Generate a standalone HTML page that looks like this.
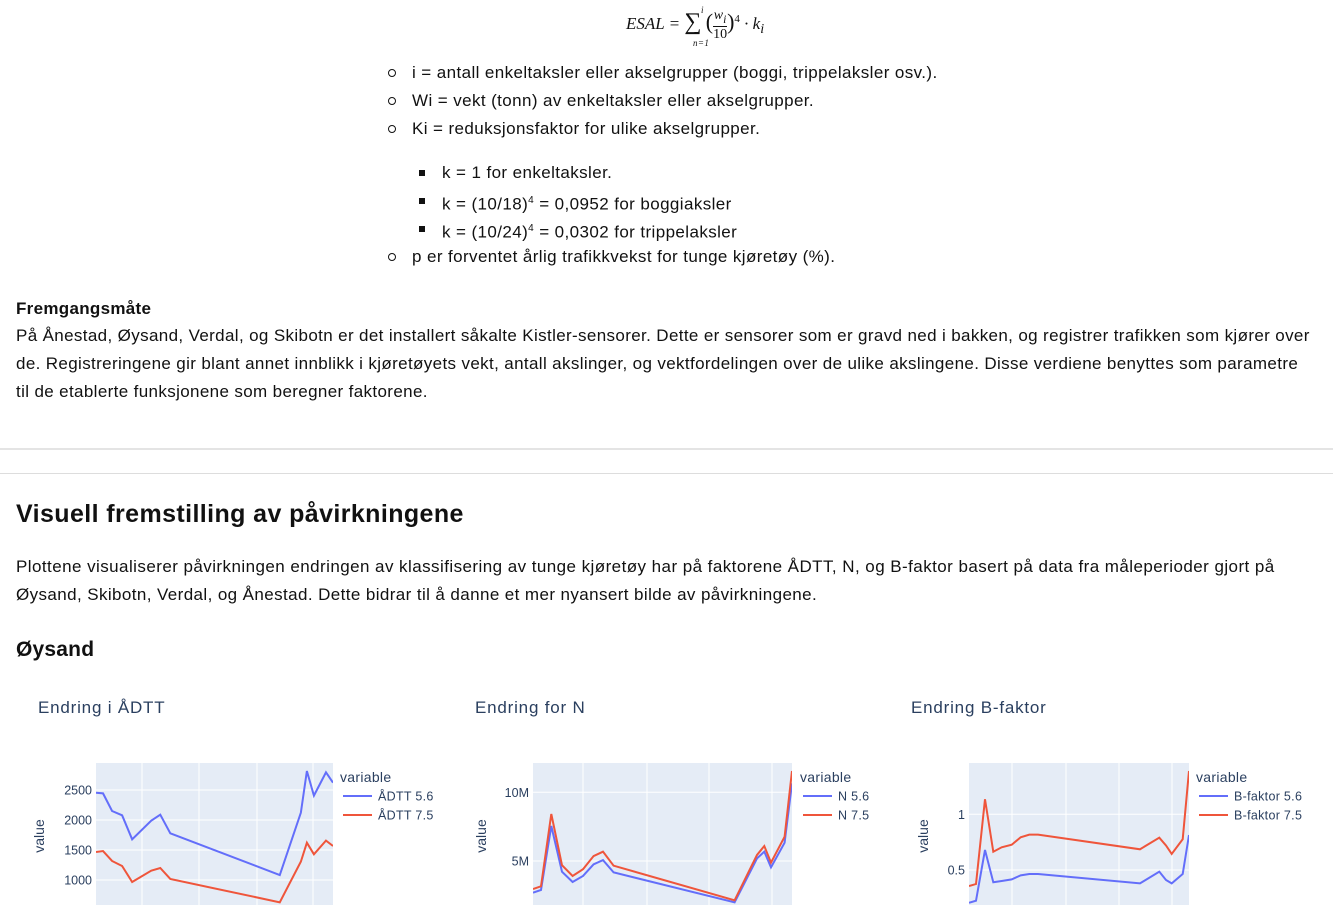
<!DOCTYPE html>
<html><head><meta charset="utf-8">
<style>
body{margin:0;width:1333px;height:905px;overflow:hidden;background:#fff;font-family:"Liberation Sans",sans-serif;color:#111;position:relative}
.t{position:absolute;white-space:nowrap;font-size:17px;line-height:20px;letter-spacing:0.4px}
.p{letter-spacing:0.4px}
.b{font-weight:bold}
.bul{position:absolute;width:6px;height:6px;border:1.5px solid #111;border-radius:50%}
.sq{position:absolute;width:6px;height:6px;background:#111}
svg text{font-family:"Liberation Sans",sans-serif}
</style></head><body>
<div class="t" style="left:626px;top:8px;font-family:'Liberation Serif',serif;font-style:italic;font-size:17px;letter-spacing:0">ESAL = <span style="font-style:normal;font-size:24px">∑</span> <span style="font-size:22px;font-style:normal">(</span><span style="display:inline-block;text-align:center;font-size:14px;vertical-align:middle;line-height:15px">w<sub>i</sub><br><span style="font-style:normal;border-top:1px solid #111">10</span></span><span style="font-size:22px;font-style:normal">)</span><sup style="font-style:normal;font-size:11px">4</sup> · k<sub>i</sub></div>
<div class="t" style="left:701px;top:0px;font-size:9px;font-family:'Liberation Serif',serif;font-style:italic">i</div>
<div class="t" style="left:693px;top:33px;font-size:9px;font-family:'Liberation Serif',serif;font-style:italic">n=1</div>

<div class="bul" style="left:388px;top:69px"></div>
<div class="t" style="left:412px;top:63px">i = antall enkeltaksler eller akselgrupper (boggi, trippelaksler osv.).</div>
<div class="bul" style="left:388px;top:97px"></div>
<div class="t" style="left:412px;top:91px">Wi = vekt (tonn) av enkeltaksler eller akselgrupper.</div>
<div class="bul" style="left:388px;top:125px"></div>
<div class="t" style="left:412px;top:119px">Ki = reduksjonsfaktor for ulike akselgrupper.</div>
<div class="sq" style="left:419px;top:170px"></div>
<div class="t" style="left:442px;top:163px">k = 1 for enkeltaksler.</div>
<div class="sq" style="left:419px;top:198px"></div>
<div class="t" style="left:442px;top:191px">k = (10/18)<sup style="font-size:10px">4</sup> = 0,0952 for boggiaksler</div>
<div class="sq" style="left:419px;top:226px"></div>
<div class="t" style="left:442px;top:219px">k = (10/24)<sup style="font-size:10px">4</sup> = 0,0302 for trippelaksler</div>
<div class="bul" style="left:388px;top:253px"></div>
<div class="t" style="left:412px;top:247px">p er forventet årlig trafikkvekst for tunge kjøretøy (%).</div>

<div class="t b" style="left:16px;top:299px;letter-spacing:0.3px">Fremgangsmåte</div>
<div class="t p" style="left:16px;top:326px;letter-spacing:0.36px">På Ånestad, Øysand, Verdal, og Skibotn er det installert såkalte Kistler-sensorer. Dette er sensorer som er gravd ned i bakken, og registrer trafikken som kjører over</div>
<div class="t p" style="left:16px;top:354px;letter-spacing:0.36px">de. Registreringene gir blant annet innblikk i kjøretøyets vekt, antall akslinger, og vektfordelingen over de ulike akslingene. Disse verdiene benyttes som parametre</div>
<div class="t p" style="left:16px;top:382px;letter-spacing:0.36px">til de etablerte funksjonene som beregner faktorene.</div>

<div style="position:absolute;left:0;top:448px;width:1333px;height:2px;background:#e4e4e4"></div>
<div style="position:absolute;left:0;top:473px;width:1333px;height:1px;background:#ddd"></div>

<div class="t b" style="left:16px;top:499px;font-size:25px;line-height:30px;letter-spacing:0.4px">Visuell fremstilling av påvirkningene</div>
<div class="t p" style="left:16px;top:557px;letter-spacing:0.44px">Plottene visualiserer påvirkningen endringen av klassifisering av tunge kjøretøy har på faktorene ÅDTT, N, og B-faktor basert på data fra måleperioder gjort på</div>
<div class="t p" style="left:16px;top:585px">Øysand, Skibotn, Verdal, og Ånestad. Dette bidrar til å danne et mer nyansert bilde av påvirkningene.</div>
<div class="t b" style="left:16px;top:638px;font-size:21px;line-height:24px;letter-spacing:0.2px">Øysand</div>

<svg id="charts" width="1333" height="905" style="position:absolute;left:0;top:0"></svg>
<script>
const c1x=[0,7,16,26,36,55,64,74,183,204,210,217,229,236];
const c1a=[2455,2444,2150,2078,1678,1989,2089,1778,1083,2122,2817,2406,2794,2622];
const c1b=[1467,1483,1317,1233,967,1156,1200,1017,628,1306,1622,1428,1656,1567];
const c1ticks=[1000,1500,2000,2500];
const c1ticklabels=["1000","1500","2000","2500"];
const c2x=[0,8,18.3,29,39.6,50,60.6,70,80.6,201.6,224,231.3,238,251.6,259];
const c2a=[2.69,2.89,7.55,4.22,3.47,3.91,4.76,5.07,4.17,1.99,5.19,5.68,4.54,6.33,10.65];
const c2b=[2.96,3.16,8.42,4.69,3.91,4.40,5.36,5.68,4.66,2.14,5.44,6.09,4.88,6.77,11.55];
const c2ticks=[5,10];
const c2ticklabels=["5M","10M"];
const c3x=[0,7,16,24.3,32.7,42.7,51.7,60.3,69,171,190.3,197,202.7,213.7,220];
const c3a=[0.206,0.224,0.680,0.390,0.401,0.416,0.452,0.464,0.464,0.380,0.485,0.410,0.380,0.464,0.814];
const c3b=[0.356,0.374,1.135,0.664,0.704,0.727,0.794,0.817,0.817,0.686,0.790,0.72,0.644,0.776,1.389];
const c3ticks=[0.5,1];
const c3ticklabels=["0.5","1"];
const titles=["Endring i ÅDTT","Endring for N","Endring B-faktor"];
const legA=["ÅDTT 5.6","N 5.6","B-faktor 5.6"];
const legB=["ÅDTT 7.5","N 7.5","B-faktor 7.5"];

const svg=document.getElementById('charts');
const NS='http://www.w3.org/2000/svg';
function mk(t,a,p){const e=document.createElementNS(NS,t);for(const k in a)e.setAttribute(k,a[k]);(p||svg).appendChild(e);return e;}
const cfg=[
 {x:c1x,a:c1a,b:c1b,tk:c1ticks,tl:c1ticklabels,L:96,R:333,xmax:236,v0:2500,y0:790,v1:1000,y1:880,vg:[142,199,257,313],tx:38,lx:340,yt:40},
 {x:c2x,a:c2a,b:c2b,tk:c2ticks,tl:c2ticklabels,L:533,R:792,xmax:259,v0:10,y0:792.3,v1:5,y1:861,vg:[583,647,709,772],tx:475,lx:800,yt:482},
 {x:c3x,a:c3a,b:c3b,tk:c3ticks,tl:c3ticklabels,L:969,R:1189,xmax:220,v0:1,y0:814.3,v1:0.5,y1:870,vg:[1012,1066,1119,1172],tx:911,lx:1196,yt:924}
];
cfg.forEach((c,i)=>{
 const g=mk('g',{});
 
 
 const X=v=>c.L+v/c.xmax*(c.R-c.L);
 const Y=v=>c.y0+(v-c.v0)/(c.v1-c.v0)*(c.y1-c.y0);
 const bg=mk('rect',{x:c.L,y:763,width:c.R-c.L,height:150,fill:'#e5ecf6'},g);
 
 
 c.vg.forEach(x=>mk('line',{x1:x,x2:x,y1:763,y2:913,stroke:'#fff','stroke-width':1},g));
 c.tk.forEach((t,j)=>{
  mk('line',{x1:c.L,x2:c.R,y1:Y(t),y2:Y(t),stroke:'#fff','stroke-width':1},g);
  const tt=mk('text',{x:c.L-4,y:Y(t)+4.5,'text-anchor':'end','font-size':12.5,fill:'#2a3f5f'},g);
  tt.textContent=c.tl[j];
  
  
 });
 const clip=mk('clipPath',{id:'cp'+i},g);mk('rect',{x:c.L,y:763,width:c.R-c.L,height:150},clip);
 [[c.a,'#636efa'],[c.b,'#ef553b']].forEach(([s,col],k)=>{
  const p=mk('polyline',{points:s.map((v,j)=>X(c.x[j])+','+Y(v)).join(' '),fill:'none',stroke:col,'stroke-width':2,'clip-path':'url(#cp'+i+')'},g);
  
  
 });
 const ti=mk('text',{x:c.tx,y:713,'font-size':17,fill:'#2a3f5f','letter-spacing':0.8},g);ti.textContent=titles[i];
 
 
 const yt=mk('text',{x:c.yt+4,y:836,'font-size':14,fill:'#2a3f5f','text-anchor':'middle',transform:`rotate(-90 ${c.yt+4} 836)`},g);yt.textContent='value';
 
 
 const lv=mk('text',{x:c.lx,y:782,'font-size':14,fill:'#2a3f5f','letter-spacing':0.3},g);lv.textContent='variable';
 
 
 [[legA[i],'#636efa',796],[legB[i],'#ef553b',815]].forEach(([t,col,y])=>{
  mk('line',{x1:c.lx+3,x2:c.lx+32,y1:y,y2:y,stroke:col,'stroke-width':2},g);
  const e=mk('text',{x:c.lx+38,y:y+4.5,'font-size':12.5,fill:'#2a3f5f','letter-spacing':0.3},g);e.textContent=t;
  
  
 });
});
</script>
</body></html>
